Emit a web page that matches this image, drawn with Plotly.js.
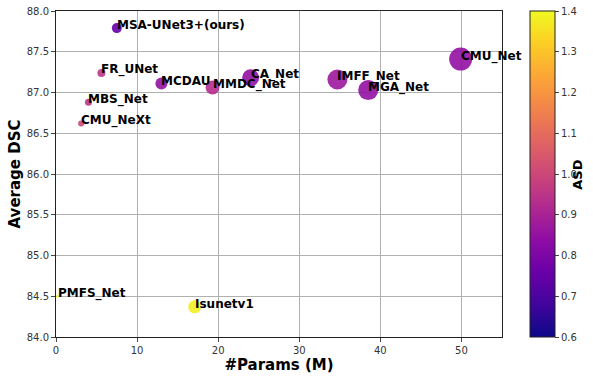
<!DOCTYPE html>
<html>
<head>
<meta charset="utf-8">
<script src="https://cdn.plot.ly/plotly-3.0.1.min.js"></script>
<style>
  html, body { margin: 0; padding: 0; background: #fff; }
  #chart { width: 593px; height: 380px; }
</style>
</head>
<body>
<div id="chart"></div>
<script>
// Model names, params (M), average DSC, ASD and bubble size
const models = ['MSA-UNet3+(ours)', 'FR_UNet', 'MBS_Net', 'CMU_NeXt', 'MCDAU', 'MMDC_Net',
                'CA_Net', 'IMFF_Net', 'MGA_Net', 'CMU_Net', 'PMFS_Net', 'Isunetv1'];
const params = [7.5, 5.6, 4.0, 3.1, 13.0, 19.3, 24.0, 34.7, 38.5, 49.9, 0.2, 17.1];
const dsc = [87.79, 87.24, 86.88, 86.62, 87.11, 87.06, 87.18, 87.16, 87.03, 87.41, 84.5, 84.37];
const asd = [0.75, 0.95, 0.95, 1.0, 0.85, 0.93, 0.85, 0.87, 0.85, 0.85, 1.4, 1.38];
const sizes = [10, 8, 7, 6, 12, 14, 17, 20, 20, 23, 3, 13];

// matplotlib "plasma"
const plasma = [
    [0.0, '#0d0887'], [0.1, '#41049d'], [0.2, '#6a00a8'], [0.3, '#8f0da4'],
    [0.4, '#b12a90'], [0.5, '#cc4778'], [0.6, '#e16462'], [0.7, '#f2844b'],
    [0.8, '#fca636'], [0.9, '#fcce25'], [1.0, '#f0f921']
];

const bubbles = {
    x: params,
    y: dsc,
    type: 'scatter',
    mode: 'markers',
    hoverinfo: 'skip',
    marker: {
        size: sizes,
        color: asd,
        colorscale: plasma,
        cmin: 0.6,
        cmax: 1.4,
        opacity: 0.9,
        line: { width: 0 },
        colorbar: {
            x: 1.063,
            xanchor: 'left',
            xpad: 0,
            y: 0,
            yanchor: 'bottom',
            ypad: 0,
            len: 1,
            lenmode: 'fraction',
            thickness: 25,
            outlinewidth: 1,
            outlinecolor: '#222',
            ticks: 'outside',
            ticklen: 4,
            tickvals: [0.6, 0.7, 0.8, 0.9, 1.0, 1.1, 1.2, 1.3, 1.4],
            tickformat: '.1f',
            tickfont: { family: 'DejaVu Sans', size: 10, color: '#333' }
        }
    }
};

// Labels placed from the same arrays
const labels = models.map((m, i) => ({
    x: params[i],
    y: dsc[i],
    xref: 'x',
    yref: 'y',
    text: m,
    showarrow: false,
    xanchor: 'left',
    yanchor: 'middle',
    xshift: -2,
    yshift: 3,
    font: { family: 'DejaVu Sans', size: 12, weight: 'bold', color: '#000' }
}));

// colorbar title, set closer to the bar like the reference
labels.push({
    x: 1.17,
    y: 0.497,
    xref: 'paper',
    yref: 'paper',
    text: 'ASD',
    textangle: -90,
    showarrow: false,
    xanchor: 'center',
    yanchor: 'middle',
    font: { family: 'DejaVu Sans', size: 13, weight: 'bold', color: '#000' }
});

const layout = {
    width: 593,
    height: 380,
    margin: { l: 56, r: 91, t: 11, b: 43, autoexpand: false },
    paper_bgcolor: '#fff',
    plot_bgcolor: '#fff',
    showlegend: false,
    xaxis: {
        range: [0, 55],
        tickvals: [0, 10, 20, 30, 40, 50],
        ticks: 'outside',
        ticklen: 4,
        showgrid: true,
        gridcolor: '#b0b0b0',
        showline: true,
        mirror: true,
        linecolor: '#222',
        zeroline: false,
        tickfont: { family: 'DejaVu Sans', size: 10, color: '#333' },
        title: { text: '#Params (M)', standoff: 3, font: { family: 'DejaVu Sans', size: 15, weight: 'bold', color: '#000' } }
    },
    yaxis: {
        range: [84, 88],
        tickvals: [84, 84.5, 85, 85.5, 86, 86.5, 87, 87.5, 88],
        tickformat: '.1f',
        ticks: 'outside',
        ticklen: 4,
        showgrid: true,
        gridcolor: '#b0b0b0',
        showline: true,
        mirror: true,
        linecolor: '#222',
        zeroline: false,
        tickfont: { family: 'DejaVu Sans', size: 10, color: '#333' },
        title: { text: 'Average DSC', standoff: 2, font: { family: 'DejaVu Sans', size: 15, weight: 'bold', color: '#000' } }
    },
    annotations: labels
};

Plotly.newPlot('chart', [bubbles], layout, { displayModeBar: false, staticPlot: true });
</script>
</body>
</html>
